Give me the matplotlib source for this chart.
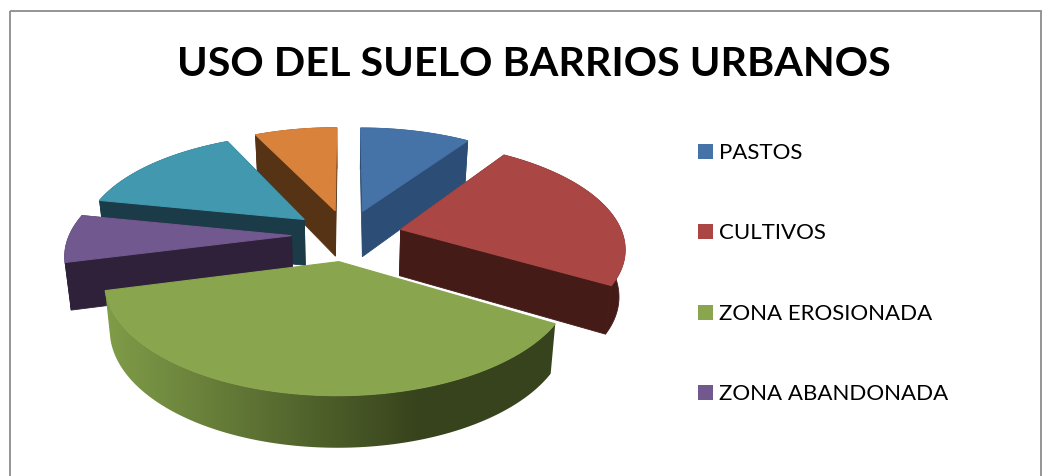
"""USO DEL SUELO BARRIOS URBANOS - tarta 3D con porciones separadas"""
import numpy as np
import matplotlib
matplotlib.use('Agg')
import matplotlib.pyplot as plt
from matplotlib.colors import LinearSegmentedColormap
from matplotlib.patches import Polygon, Rectangle

plt.rcParams['font.family'] = ['Lato', 'DejaVu Sans']

title = 'USO DEL SUELO BARRIOS URBANOS'
legend_labels = ['PASTOS', 'CULTIVOS', 'ZONA EROSIONADA', 'ZONA ABANDONADA']
# the last two slices have no visible legend entry in the picture
values = [9.5, 24.0, 37.5, 7.2, 14.7, 7.1]

top_colors = ['#4572A7', '#AA4643', '#89A54E', '#71588F', '#4198AF', '#D9823B']
side_colors = ['#2C4D75', '#451B18', '#37431C', '#2E2139', '#1A3B47', '#573316']

# projection
CX, CY = 347, 236
RX, RY = 222, 103.3
K = 0.1586
EXPLODE = 0.25


def project(u, v):
    w = 1 + K * v
    return CX + RX * u / w, CY - RY * v / w


def drop(x, y, v):
    # bottom of the wall below a point of the top face
    return x - (x - CX) * 0.022, y + 46.5 - 4.5 * v


fig = plt.figure(figsize=(10.51, 4.77), dpi=100)
ax = fig.add_axes([0, 0, 1, 1])
ax.axis('off')

ax.add_patch(Rectangle((10, 12), 1031, 500, fill=False, ec='#8C8C8C', lw=1.3))

total = sum(values)
edges = np.cumsum([0] + values) / total * 2 * np.pi
draw_order = [5, 0, 4, 1, 3, 2]

green_cmap = LinearSegmentedColormap.from_list('green_wall', ['#7F9C48', '#37431C'])

for i in draw_order:
    a0, a1 = edges[i], edges[i + 1]
    mid = (a0 + a1) / 2
    u0, v0 = EXPLODE * np.sin(mid), EXPLODE * np.cos(mid)
    t = np.linspace(a0, a1, 120)
    u = u0 + np.sin(t)
    v = v0 + np.cos(t)
    x, y = project(u, v)
    xc, yc = project(u0, v0)
    xb, yb = drop(x, y, v)
    xcb, ycb = drop(xc, yc, v0)
    dark = side_colors[i]

    wall = np.column_stack([np.r_[x, xb[::-1]], np.r_[y, yb[::-1]]])
    if i == 2:
        # only the outer wall shows; gradient runs left to right, then stays dark
        patch = Polygon(wall, fc='none', ec='none')
        ax.add_patch(patch)
        grad = np.clip((np.linspace(100, 570, 470) - 108) / (420 - 108), 0, 1)
        img = ax.imshow(grad[np.newaxis, :], cmap=green_cmap, vmin=0, vmax=1, aspect='auto',
                        extent=(100, 570, 460, 280), zorder=1.5)
        img.set_clip_path(patch)
    else:
        # radial walls, then outer wall
        for j in (0, -1):
            ax.add_patch(Polygon([(xc, yc), (x[j], y[j]), (xb[j], yb[j]), (xcb, ycb)],
                                 fc=dark, ec=dark, lw=0.6))
        ax.add_patch(Polygon(wall, fc=dark, ec=dark, lw=0.6))
    # top face
    ax.add_patch(Polygon(np.column_stack([np.r_[xc, x], np.r_[yc, y]]),
                         fc=top_colors[i], ec=top_colors[i], lw=0.8, zorder=2 if i == 2 else 1))

ax.text(534, 65, title, ha='center', va='center', fontsize=29.7, fontweight='bold', color='black')

legend_y = [152.5, 232.5, 313, 393.5]
for k, lab in enumerate(legend_labels):
    ax.add_patch(Rectangle((698, legend_y[k] - 7.5), 15, 15, fc=top_colors[k], ec='none'))
    ax.text(719, legend_y[k] + 1, lab, ha='left', va='center', fontsize=16, color='black')

ax.set_xlim(0, 1051)
ax.set_ylim(477, 0)
fig.savefig('out.png', dpi=100)
